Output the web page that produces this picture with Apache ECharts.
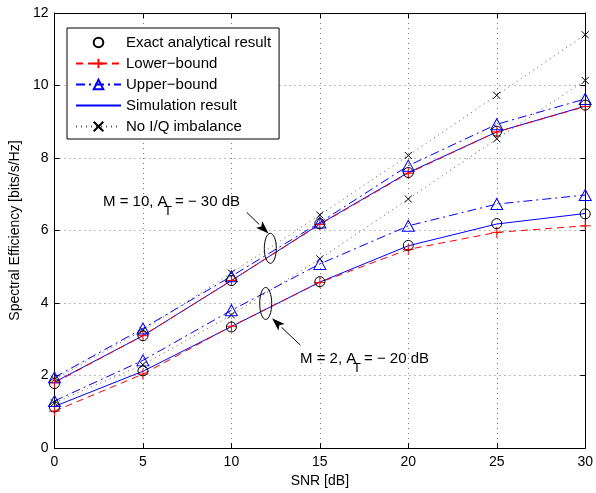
<!DOCTYPE html>
<html>
<head>
<meta charset="utf-8">
<script src="https://cdn.jsdelivr.net/npm/echarts@6/dist/echarts.min.js"></script>
<style>html,body{margin:0;padding:0;background:#fff}#c{width:596px;height:493px}</style>
</head>
<body>
<div id="c"></div>
<script>
// SNR [dB]
const snr = [0, 5, 10, 15, 20, 25, 30];
const yTicks = [0, 2, 4, 6, 8, 10, 12];
const xTicks = [0, 5, 10, 15, 20, 25, 30];
const seriesNames = ['Exact analytical result', 'Lower\u2212bound', 'Upper\u2212bound', 'Simulation result', 'No I/Q imbalance'];

// M = 10, A_T = -30 dB
const exactM10 = [1.78, 3.10, 4.62, 6.19, 7.60, 8.74, 9.46];
const lowerM10 = [1.80, 3.10, 4.62, 6.17, 7.58, 8.72, 9.42];
const upperM10 = [1.95, 3.30, 4.74, 6.22, 7.79, 8.93, 9.63];
const simM10   = [1.82, 3.10, 4.62, 6.18, 7.60, 8.72, 9.43];
const noIqM10  = [1.90, 3.25, 4.83, 6.43, 8.07, 9.73, 11.40];

// M = 2, A_T = -20 dB
const exactM2 = [1.13, 2.13, 3.34, 4.59, 5.59, 6.19, 6.46];
const lowerM2 = [1.02, 2.04, 3.36, 4.57, 5.48, 5.95, 6.13];
const upperM2 = [1.30, 2.42, 3.80, 5.08, 6.13, 6.73, 6.98];
const simM2   = [1.15, 2.12, 3.35, 4.58, 5.58, 6.18, 6.47];
const noIqM2  = [1.25, 2.30, 3.67, 5.22, 6.87, 8.53, 10.14];

const FONT = '"Liberation Sans", Arial, Helvetica, sans-serif';
const pairs = a => snr.map((x, i) => [x, a[i]]);
const plusPath = 'path://M0,5L10,5M5,0L5,10';
const crossPath = 'path://M0,0L10,10M0,10L10,0';

function mk(kind, data) {
  const base = { type: 'line', data: pairs(data), animation: false, clip: false };
  if (kind === 0) return Object.assign(base, {
    name: seriesNames[0], symbol: 'circle', symbolSize: 10, z: 6,
    lineStyle: { width: 0, opacity: 0, color: '#000' },
    itemStyle: { color: 'rgba(0,0,0,0)', borderColor: '#000', borderWidth: 1 }
  });
  if (kind === 1) return Object.assign(base, {
    name: seriesNames[1], symbol: plusPath, symbolSize: 11, z: 4,
    lineStyle: { width: 1, color: '#ff0000', type: [7, 5] },
    itemStyle: { color: 'rgba(0,0,0,0)', borderColor: '#ff0000', borderWidth: 1 }
  });
  if (kind === 2) return Object.assign(base, {
    name: seriesNames[2], symbol: 'triangle', symbolSize: [12, 11], z: 5,
    lineStyle: { width: 1, color: '#0000ff', type: [9, 4, 2, 4] },
    itemStyle: { color: 'rgba(0,0,0,0)', borderColor: '#0000ff', borderWidth: 1 }
  });
  if (kind === 3) return Object.assign(base, {
    name: seriesNames[3], symbol: 'none', z: 3,
    lineStyle: { width: 1, color: '#0000ff', type: 'solid' },
    itemStyle: { color: '#0000ff' }
  });
  return Object.assign(base, {
    name: seriesNames[4], symbol: crossPath, symbolSize: 7, z: 2,
    lineStyle: { width: 1, color: '#555', type: [1, 4] },
    itemStyle: { color: 'rgba(0,0,0,0)', borderColor: '#000', borderWidth: 1 }
  });
}

const chart = echarts.init(document.getElementById('c'), null, { renderer: 'canvas' });
const gridLine = { show: true, lineStyle: { color: '#777', type: [1, 4], width: 1 } };
const tickIn = { show: true, inside: true, length: 5, lineStyle: { color: '#000' } };

const option = {
  backgroundColor: '#fff',
  textStyle: { fontFamily: FONT },
  grid: { left: 52, right: 8, top: 13, bottom: 38 },
  xAxis: [{
    type: 'value', min: 0, max: 30, interval: 5,
    axisLine: { show: true, onZero: false, lineStyle: { color: '#000', width: 1 } },
    axisTick: tickIn, splitLine: gridLine,
    axisLabel: { color: '#000', fontSize: 14, margin: 7, fontFamily: FONT,
                 formatter: v => xTicks.includes(v) ? String(v) : '' },
    name: 'SNR [dB]', nameLocation: 'middle', nameGap: 25,
    nameTextStyle: { color: '#000', fontSize: 14, fontFamily: FONT }
  }, {
    type: 'value', min: 0, max: 30, interval: 5, position: 'top',
    axisLine: { show: true, onZero: false, lineStyle: { color: '#000', width: 1 } },
    axisTick: tickIn, axisLabel: { show: false }, splitLine: { show: false }
  }],
  yAxis: [{
    type: 'value', min: 0, max: 12, interval: 2,
    axisLine: { show: true, onZero: false, lineStyle: { color: '#000', width: 1 } },
    axisTick: tickIn, splitLine: gridLine,
    axisLabel: { color: '#000', fontSize: 14, margin: 6, fontFamily: FONT,
                 formatter: v => yTicks.includes(v) ? String(v) : '' },
    name: 'Spectral Efficiency [bits/s/Hz]', nameLocation: 'middle', nameGap: 30,
    nameTextStyle: { color: '#000', fontSize: 14, fontFamily: FONT }
  }, {
    type: 'value', min: 0, max: 12, interval: 2, position: 'right',
    axisLine: { show: true, onZero: false, lineStyle: { color: '#000', width: 1 } },
    axisTick: tickIn, axisLabel: { show: false }, splitLine: { show: false }
  }],
  legend: {
    orient: 'vertical', left: 67, top: 28,
    data: [
      { name: seriesNames[0] },
      { name: seriesNames[1] },
      { name: seriesNames[2] },
      { name: seriesNames[3], itemStyle: { opacity: 0 } },
      { name: seriesNames[4] }
    ],
    itemWidth: 45, itemHeight: 12, itemGap: 6,
    padding: [7, 8, 5, 8],
    backgroundColor: '#fff', borderColor: '#000', borderWidth: 1, borderRadius: 0,
    selectedMode: false,
    textStyle: { color: '#000', fontSize: 15, fontFamily: FONT }
  },
  series: [
    mk(0, exactM10), mk(1, lowerM10), mk(2, upperM10), mk(3, simM10), mk(4, noIqM10),
    mk(0, exactM2), mk(1, lowerM2), mk(2, upperM2), mk(3, simM2), mk(4, noIqM2)
  ],
  graphic: []
};
chart.setOption(option);

// annotations placed in data coordinates
function px(x, y) { return chart.convertToPixel({ xAxisIndex: 0, yAxisIndex: 0 }, [x, y]); }
function arrow(from, to) {
  const dx = to[0] - from[0], dy = to[1] - from[1];
  const L = Math.hypot(dx, dy), ux = dx / L, uy = dy / L;
  const hl = 13, hw = 4.5;
  const bx = to[0] - ux * hl, by = to[1] - uy * hl;
  return [
    { type: 'line', shape: { x1: from[0], y1: from[1], x2: bx, y2: by }, style: { stroke: '#000', lineWidth: 1 }, z: 100 },
    { type: 'polygon', shape: { points: [to, [bx - uy * hw, by + ux * hw], [to[0] - ux * (hl - 3), to[1] - uy * (hl - 3)], [bx + uy * hw, by - ux * hw]] },
      style: { fill: '#000' }, z: 100 }
  ];
}
const e1 = px(12.2, 5.51), e2 = px(11.94, 3.99);
const g = [
  { type: 'ellipse', shape: { cx: e1[0], cy: e1[1], rx: 6, ry: 15 }, style: { fill: 'none', stroke: '#000', lineWidth: 1 }, z: 100 },
  { type: 'ellipse', shape: { cx: e2[0], cy: e2[1], rx: 6, ry: 16 }, style: { fill: 'none', stroke: '#000', lineWidth: 1 }, z: 100 },
  ...arrow(px(10.87, 6.5), px(12.1, 5.92)),
  ...arrow(px(13.9, 2.84), px(12.3, 3.58)),
  { type: 'text', x: 103, y: 202, z: 100, style: { text: 'M = 10, A', fill: '#000', font: '15px ' + FONT, verticalAlign: 'middle' } },
  { type: 'text', x: 164, y: 211, z: 100, style: { text: 'T', fill: '#000', font: '13px ' + FONT, verticalAlign: 'middle' } },
  { type: 'text', x: 175, y: 202, z: 100, style: { text: '= \u2212 30 dB', fill: '#000', font: '15px ' + FONT, verticalAlign: 'middle' } },
  { type: 'text', x: 300, y: 359, z: 100, style: { text: 'M = 2, A', fill: '#000', font: '15px ' + FONT, verticalAlign: 'middle' } },
  { type: 'text', x: 353, y: 368, z: 100, style: { text: 'T', fill: '#000', font: '13px ' + FONT, verticalAlign: 'middle' } },
  { type: 'text', x: 364, y: 359, z: 100, style: { text: '= \u2212 20 dB', fill: '#000', font: '15px ' + FONT, verticalAlign: 'middle' } }
];
chart.setOption({ graphic: g });
</script>
</body>
</html>
